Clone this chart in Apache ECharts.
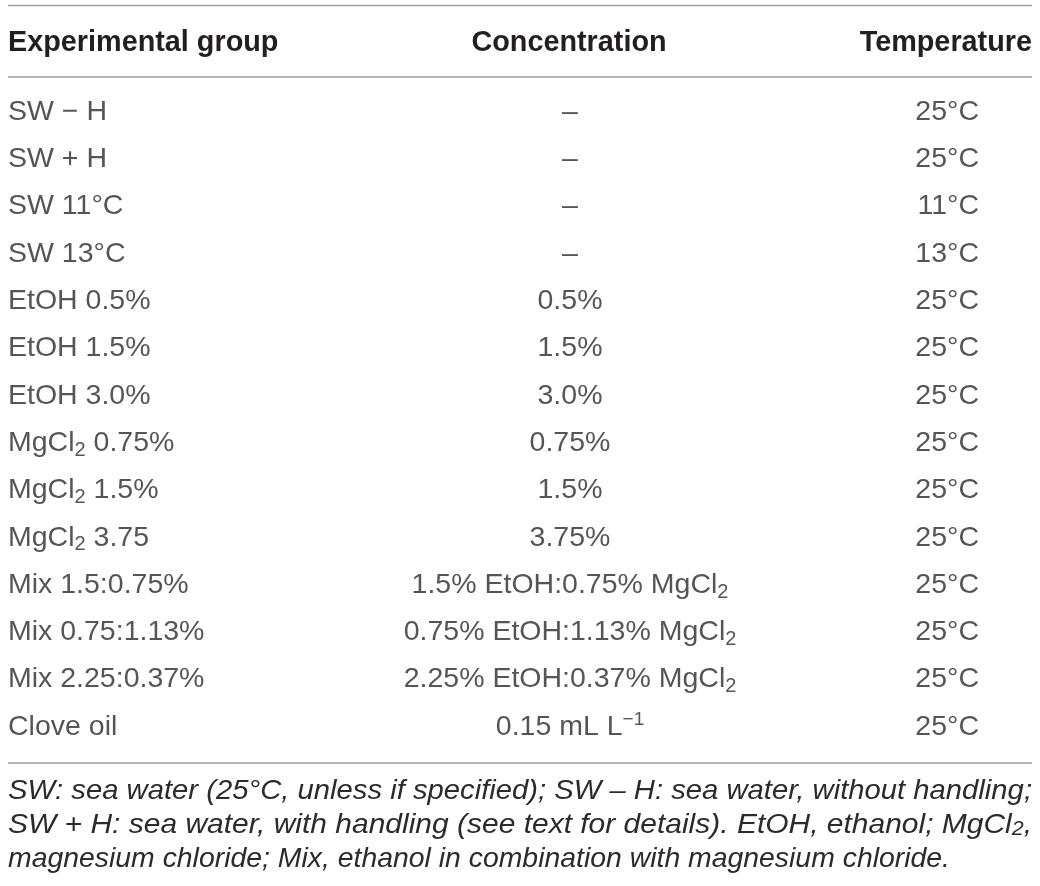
<!DOCTYPE html>
<html>
<head>
<meta charset="utf-8">
<script src="https://cdn.jsdelivr.net/npm/echarts@6/dist/echarts.min.js"></script>
<style>
html,body{margin:0;padding:0;background:#ffffff;}
#main{width:1040px;height:886px;}
</style>
</head>
<body>
<div id="main"></div>
<script>
// ---- data ----
const headers = ['Experimental group', 'Concentration', 'Temperature'];
const groups = ['SW \u2212 H', 'SW + H', 'SW 11°C', 'SW 13°C', 'EtOH 0.5%', 'EtOH 1.5%', 'EtOH 3.0%',
  'MgCl₂ 0.75%', 'MgCl₂ 1.5%', 'MgCl₂ 3.75', 'Mix 1.5:0.75%', 'Mix 0.75:1.13%', 'Mix 2.25:0.37%', 'Clove oil'];
const concentrations = ['\u2013', '\u2013', '\u2013', '\u2013', '0.5%', '1.5%', '3.0%', '0.75%', '1.5%', '3.75%',
  '1.5% EtOH:0.75% MgCl₂', '0.75% EtOH:1.13% MgCl₂', '2.25% EtOH:0.37% MgCl₂', '0.15 mL L⁻¹'];
const temperatures = ['25°C', '25°C', '11°C', '13°C', '25°C', '25°C', '25°C', '25°C', '25°C', '25°C',
  '25°C', '25°C', '25°C', '25°C'];
const footnoteLines = [
  'SW: sea water (25°C, unless if specified); SW \u2013 H: sea water, without handling;',
  'SW + H: sea water, with handling (see text for details). EtOH, ethanol; MgCl₂,',
  'magnesium chloride; Mix, ethanol in combination with magnesium chloride.'
];

// ---- layout / style ----
const FONT = "'Liberation Sans', Arial, Helvetica, sans-serif";
const TEXT = '#2b2b2b';
const HEAD_TEXT = '#231f20';
const RULE = '#9d9d9d';
const BODY_SIZE = 28.5;
const COL_ANCHOR = [8, 570, 979];
const HEAD_ANCHOR = [8, 569, 1032];
const HEAD_Y = 43;
const RULES_Y = [5.5, 77, 763];
const FOOT_Y = [791, 825, 859];
const FOOT_SIZE = 28;
const FOOT_W = [1024, 1024, 942];

function toRich(s) {
  return s.replace(/₂/g, '{sub|2}').replace(/⁻¹/g, '{sup|\u22121}');
}
const richStyles = {
  sub: { fontFamily: FONT, fontSize: 20, lineHeight: 22, verticalAlign: 'bottom', color: TEXT },
  sup: { fontFamily: FONT, fontSize: 19, lineHeight: 22, verticalAlign: 'top', color: TEXT }
};

function colSeries(values, ci, position, align) {
  return {
    type: 'scatter',
    symbolSize: 0,
    silent: true,
    data: values.map((v, i) => ({ value: [COL_ANCHOR[ci], i], text: v })),
    label: {
      show: true,
      position: position,
      distance: 0,
      align: align,
      verticalAlign: 'middle',
      fontFamily: FONT,
      fontSize: BODY_SIZE,
      lineHeight: 34,
      color: TEXT,
      formatter: p => toRich(p.data.text),
      rich: richStyles
    }
  };
}

// measure text to fit footnote lines (emulates justified condensed type)
const cv = document.createElement('canvas').getContext('2d');
const SUB_F = 20, SUP_F = 19;
function measure(s, size) {
  let w = 0;
  const parts = s.split(/(₂|⁻¹)/);
  parts.forEach(pt => {
    if (pt === '₂') { cv.font = 'italic ' + SUB_F + 'px ' + FONT; w += cv.measureText('2').width; }
    else if (pt === '⁻¹') { cv.font = 'italic ' + SUP_F + 'px ' + FONT; w += cv.measureText('\u22121').width; }
    else if (pt) { cv.font = 'italic ' + size + 'px ' + FONT; w += cv.measureText(pt).width; }
  });
  return w;
}
const scales = footnoteLines.map((l, i) => FOOT_W[i] / measure(l, FOOT_SIZE));

const graphics = [];
RULES_Y.forEach(y => graphics.push({
  type: 'line', silent: true,
  shape: { x1: 8, y1: y, x2: 1032, y2: y },
  style: { stroke: RULE, lineWidth: 1.6 }
}));
const headAlign = ['left', 'center', 'right'];
headers.forEach((h, i) => graphics.push({
  type: 'text', silent: true, x: HEAD_ANCHOR[i], y: HEAD_Y,
  style: { text: h, font: 'bold 28.8px ' + FONT, fill: HEAD_TEXT, align: headAlign[i], verticalAlign: 'middle' }
}));
footnoteLines.forEach((l, i) => graphics.push({
  type: 'text', silent: true, x: 8, y: FOOT_Y[i],
  scaleX: scales[i],
  style: {
    text: toRich(l), fontFamily: FONT, fontSize: FOOT_SIZE, fontStyle: 'italic', fill: TEXT,
    align: 'left', verticalAlign: 'middle',
    rich: {
      sub: { fontFamily: FONT, fontStyle: 'italic', fontSize: SUB_F, lineHeight: 22, verticalAlign: 'bottom', fill: TEXT },
      sup: { fontFamily: FONT, fontStyle: 'italic', fontSize: SUP_F, lineHeight: 22, verticalAlign: 'top', fill: TEXT }
    }
  }
}));

const chart = echarts.init(document.getElementById('main'), null, { renderer: 'canvas' });
chart.setOption({
  animation: false,
  backgroundColor: '#ffffff',
  grid: { left: 0, right: 0, top: 88.35, bottom: 135.45, containLabel: false },
  xAxis: { type: 'value', min: 0, max: 1040, show: false },
  yAxis: { type: 'category', inverse: true, data: groups.map((g, i) => i), show: false },
  series: [
    colSeries(groups, 0, 'right', 'left'),
    colSeries(concentrations, 1, 'inside', 'center'),
    colSeries(temperatures, 2, 'left', 'right')
  ],
  graphic: graphics
});
</script>
</body>
</html>
